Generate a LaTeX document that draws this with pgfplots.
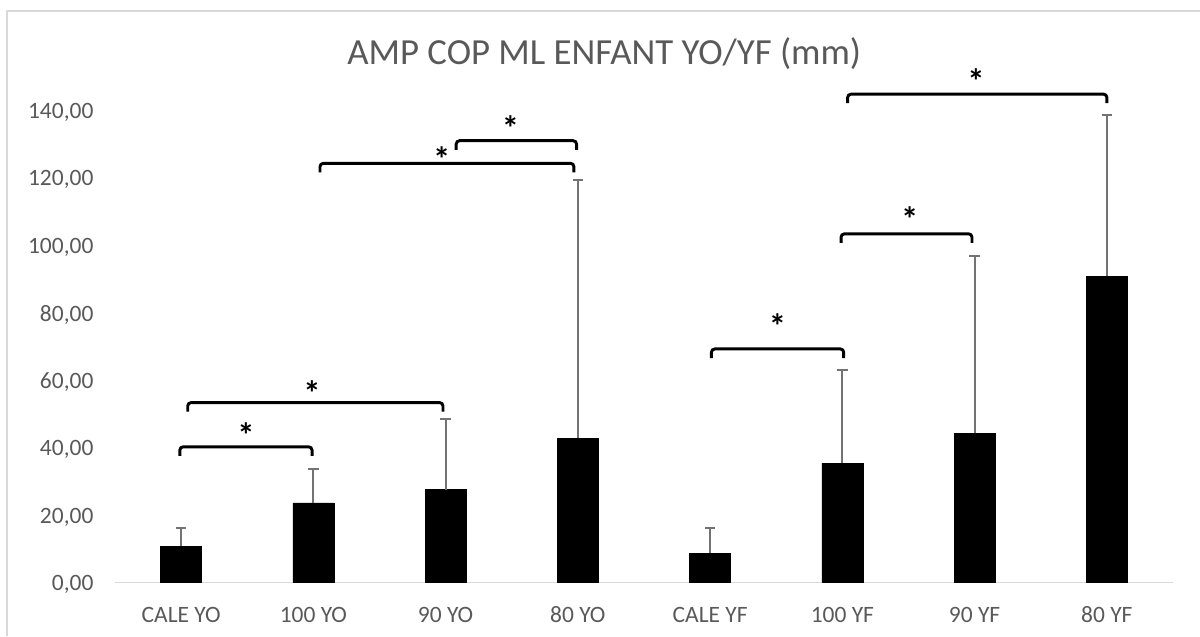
\documentclass[border=0pt]{standalone}
\usepackage{pgfplots}
\pgfplotsset{compat=1.18}
\usepackage{fontspec}
\setmainfont{Carlito}
\definecolor{txtgray}{HTML}{595959}
\definecolor{axgray}{HTML}{D9D9D9}
\definecolor{errgray}{HTML}{737373}
\begin{document}
\begin{tikzpicture}
\useasboundingbox (0,0) rectangle (900pt,477pt);
\draw[axgray, line width=1.1pt] (5.25pt,0pt) -- (5.25pt,468.75pt) -- (900pt,468.75pt);
\node[anchor=base, text=txtgray, inner sep=0pt, font=\fontsize{27.6}{32}\selectfont] at (453.2pt,428.3pt) {AMP COP ML ENFANT YO/YF (mm)};
\begin{axis}[
  at={(86.25pt,40.125pt)}, anchor=south west,
  width=793.5pt, height=354.375pt, scale only axis,
  xmin=-0.5, xmax=7.5, ymin=0, ymax=140,
  clip=false,
  axis line style={draw=none},
  major tick length=0pt,
  xtick={0,...,7},
  xticklabels={CALE YO,100 YO,90 YO,80 YO,CALE YF,100 YF,90 YF,80 YF},
  ytick={0,20,...,140},
  /pgf/number format/assume math mode=true,
  /pgf/number format/fixed, /pgf/number format/fixed zerofill,
  /pgf/number format/precision=2, /pgf/number format/use comma,
  tick label style={text=txtgray, font=\fontsize{17.6}{20}\selectfont, inner sep=0pt},
  yticklabel style={anchor=east, xshift=-16pt, yshift=-1.5pt},
  xticklabel style={anchor=base, yshift=-30pt},
  ybar, bar width=30.75pt,
]
\draw[axgray, line width=1.4pt] (axis cs:-0.5,0) -- (axis cs:7.5,0);
\addplot[fill=black, draw=black,
  error bars/.cd, y dir=plus, y explicit,
  error bar style={draw=errgray, line width=1.5pt},
  error mark options={draw=errgray, line width=1.5pt, mark size=4pt, rotate=90}]
  table[x=x, y=y, y error=e] {
x y e
0 10.8 5.4
1 23.6 10.0
2 27.5 20.8
3 42.8 76.4
4 8.7 7.4
5 35.4 27.7
6 44.2 52.6
7 90.7 47.7
};
\tikzset{br/.style={draw=black, line width=2.2pt, rounded corners=2.5pt},
  ast/.style={inner sep=0pt, font=\fontsize{26}{28}\selectfont\bfseries}}
\draw[br] (axis cs:-0.01,37.5) -- (axis cs:-0.01,40.2) -- (axis cs:0.99,40.2) -- (axis cs:0.99,37.5);
\draw[br] (axis cs:0.05,50.6) -- (axis cs:0.05,53.3) -- (axis cs:1.98,53.3) -- (axis cs:1.98,50.6);
\draw[br] (axis cs:1.05,121.5) -- (axis cs:1.05,124.2) -- (axis cs:2.97,124.2) -- (axis cs:2.97,121.5);
\draw[br] (axis cs:2.08,128.2) -- (axis cs:2.08,130.9) -- (axis cs:2.99,130.9) -- (axis cs:2.99,128.2);
\draw[br] (axis cs:4.01,66.5) -- (axis cs:4.01,69.2) -- (axis cs:5.01,69.2) -- (axis cs:5.01,66.5);
\draw[br] (axis cs:4.99,100.6) -- (axis cs:4.99,103.3) -- (axis cs:5.98,103.3) -- (axis cs:5.98,100.6);
\draw[br] (axis cs:5.04,142.0) -- (axis cs:5.04,144.7) -- (axis cs:7.0,144.7) -- (axis cs:7.0,142.0);
\node[ast] at (axis cs:0.49,43.6) {*};
\node[ast] at (axis cs:0.99,56.0) {*};
\node[ast] at (axis cs:1.97,125.4) {*};
\node[ast] at (axis cs:2.49,134.6) {*};
\node[ast] at (axis cs:4.51,75.9) {*};
\node[ast] at (axis cs:5.51,107.6) {*};
\node[ast] at (axis cs:6.01,148.5) {*};
\end{axis}
\end{tikzpicture}
\end{document}
